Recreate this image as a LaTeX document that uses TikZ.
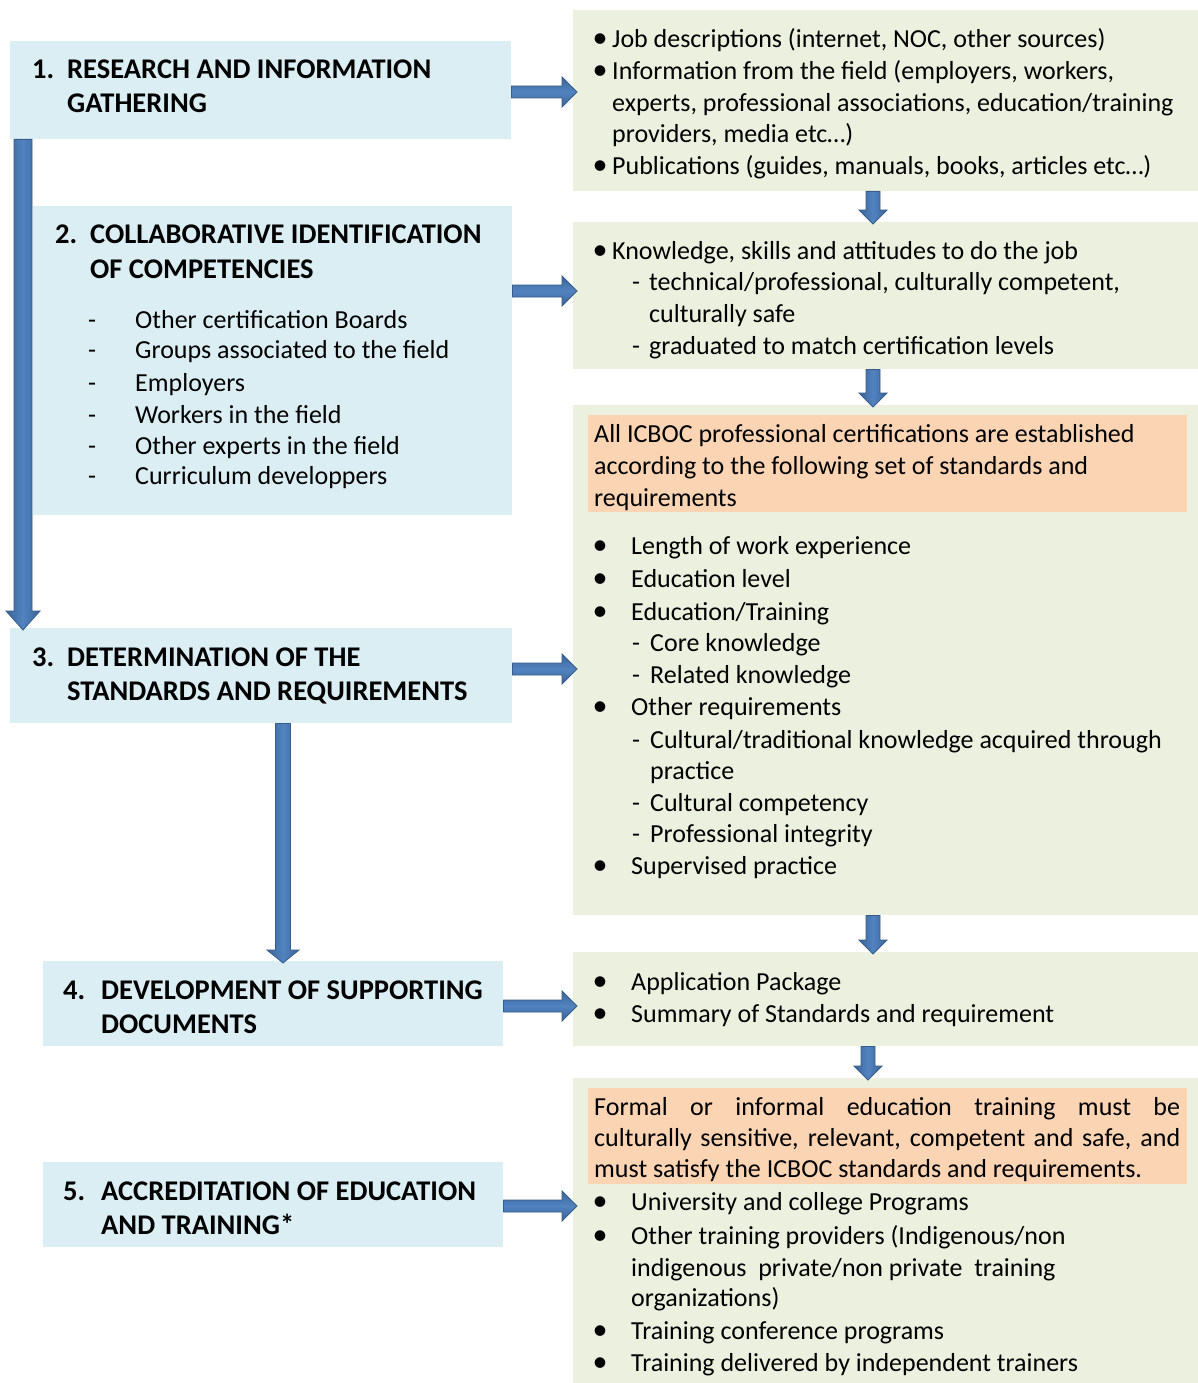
\documentclass[tikz,border=0pt]{standalone}
\usepackage{fontspec}
\setmainfont{Carlito}
\usetikzlibrary{calc}
\definecolor{boxblue}{HTML}{DAEEF3}
\definecolor{boxgreen}{HTML}{EBF1DE}
\definecolor{boxorange}{HTML}{FBD4B4}
\definecolor{arrA}{HTML}{3A6499}
\definecolor{arrB}{HTML}{5283C0}
\definecolor{arrE}{HTML}{385D8A}
\newcounter{tn}
\newcommand\Tx[3]{\stepcounter{tn}\edef\tname{t\arabic{tn}}\node[txt] (\tname) at (#1,-#2) {#3};}
\newcommand\Hd[3]{\stepcounter{tn}\edef\tname{t\arabic{tn}}\node[hdr] (\tname) at (#1,-#2) {#3};}
\newcommand\Bu[2]{\stepcounter{tn}\edef\tname{t\arabic{tn}}\node[txt,anchor=base] (\tname) at (#1,-#2) {\fontsize{30}{32}\selectfont•};}
% right arrow: start, end, shaft half, head half, head length
\newcommand\rarr[5]{\path[harrow] let \p1=#1, \p2=#2 in
 (\x1,\y1+#3) -- (\x2+4pt-#5,\y1+#3) -- (\x2+4pt-#5,\y1+#4) -- (\x2+4pt,\y1)
 -- (\x2+4pt-#5,\y1-#4) -- (\x2+4pt-#5,\y1-#3) -- (\x1,\y1-#3) -- cycle;}
\newcommand\darr[5]{\path[varrow] let \p1=#1, \p2=#2 in
 (\x1-#3,\y1) -- (\x1-#3,\y2-2pt+#5) -- (\x1-#4,\y2-2pt+#5) -- (\x1,\y2-2pt)
 -- (\x1+#4,\y2-2pt+#5) -- (\x1+#3,\y2-2pt+#5) -- (\x1+#3,\y1) -- cycle;}
\tikzset{
 txt/.style={font=\fontsize{26}{32}\selectfont, inner sep=0pt, anchor=base west, text=black, yshift=-1.5pt},
 hdr/.style={font=\fontsize{28.5}{34}\selectfont\bfseries, inner sep=0pt, anchor=base west, text=black},
 bx/.style={anchor=north west, inner sep=0pt, draw=none},
 harrow/.style={top color=arrA, bottom color=arrA, middle color=arrB, draw=arrE, line width=0.8pt},
 varrow/.style={left color=arrA, right color=arrA, middle color=arrB, draw=arrE, line width=0.8pt},
}
\begin{document}
\begin{tikzpicture}[x=1pt,y=1pt]
\fill[white] (0,0) rectangle (1198,-1383);
\useasboundingbox (0,0) rectangle (1198,-1383);
% left boxes
\node[bx,fill=boxblue,minimum width=501pt,minimum height=98pt] (b1) at (10,-41) {};
\node[bx,fill=boxblue,minimum width=479pt,minimum height=309pt] (b2) at (33,-206) {};
\node[bx,fill=boxblue,minimum width=502pt,minimum height=95pt] (b3) at (10,-628) {};
\node[bx,fill=boxblue,minimum width=460pt,minimum height=85pt] (b4) at (43,-961) {};
\node[bx,fill=boxblue,minimum width=460pt,minimum height=85pt] (b5) at (43,-1162) {};
% right boxes
\node[bx,fill=boxgreen,minimum width=625pt,minimum height=181pt] (r1) at (573,-10) {};
\node[bx,fill=boxgreen,minimum width=625pt,minimum height=147pt] (r2) at (573,-222) {};
\node[bx,fill=boxgreen,minimum width=625pt,minimum height=510pt] (r3) at (573,-405) {};
\node[bx,fill=boxgreen,minimum width=625pt,minimum height=94pt] (r4) at (573,-952) {};
\node[bx,fill=boxgreen,minimum width=625pt,minimum height=305pt] (r5) at (573,-1078) {};
\node[bx,fill=boxorange,minimum width=599pt,minimum height=97pt] (o1) at (588,-415) {};
\node[bx,fill=boxorange,minimum width=599pt,minimum height=96pt] (o2) at (588,-1088) {};
% arrows
\rarr{(b1.east |- 0,-92)}{(r1.west |- 0,-92)}{6pt}{15pt}{15pt}
\rarr{(b2.east |- 0,-291)}{(r2.west |- 0,-291)}{6pt}{15pt}{15pt}
\rarr{(b3.east |- 0,-669)}{(r3.west |- 0,-669)}{6pt}{15pt}{15pt}
\rarr{(b4.east |- 0,-1006)}{(r4.west |- 0,-1006)}{6pt}{15pt}{15pt}
\rarr{(b5.east |- 0,-1206)}{(r5.west |- 0,-1206)}{6pt}{15pt}{15pt}
\darr{(r1.south -| 873,0)}{(r2.north -| 873,0)}{7pt}{14pt}{14pt}
\darr{(r2.south -| 873,0)}{(r3.north -| 873,0)}{7pt}{14pt}{14pt}
\darr{(r3.south -| 873,0)}{(r4.north -| 873,0)}{7pt}{14pt}{14pt}
\darr{(r4.south -| 868,0)}{(r5.north -| 868,0)}{7pt}{14pt}{14pt}
\darr{(b1.south -| 23,0)}{(b3.north -| 23,0)}{9pt}{17pt}{19pt}
\darr{(b3.south -| 283,0)}{(b4.north -| 283,0)}{7.5pt}{16pt}{13pt}
% headers
\Hd{32}{79}{1.}\Hd{67}{79}{RESEARCH AND INFORMATION}\Hd{67}{113}{GATHERING}
\Hd{55}{243}{2.}\Hd{90}{243}{COLLABORATIVE IDENTIFICATION}\Hd{90}{278}{OF COMPETENCIES}
\Hd{32}{666}{3.}\Hd{67}{666}{DETERMINATION OF THE}\Hd{67}{700}{STANDARDS AND REQUIREMENTS}
\Hd{63}{999}{4.}\Hd{101}{999}{DEVELOPMENT OF SUPPORTING}\Hd{101}{1033}{DOCUMENTS}
\Hd{63}{1200}{5.}\Hd{101}{1200}{ACCREDITATION OF EDUCATION}\Hd{101}{1234}{AND TRAINING*}
% box 2 list
\Tx{88}{327}{-}\Tx{135}{327}{Other certification Boards}
\Tx{88}{357}{-}\Tx{135}{357}{Groups associated to the field}
\Tx{88}{390}{-}\Tx{135}{390}{Employers}
\Tx{88}{422}{-}\Tx{135}{422}{Workers in the field}
\Tx{88}{453}{-}\Tx{135}{453}{Other experts in the field}
\Tx{88}{483}{-}\Tx{135}{483}{Curriculum developpers}
% r1
\Bu{600}{46}\Tx{612}{46}{Job descriptions (internet, NOC, other sources)}
\Bu{600}{78}\Tx{612}{78}{Information from the field (employers, workers,}
\Tx{612}{110}{experts, professional associations, education/training}
\Tx{612}{141}{providers, media etc…)}
\Bu{600}{173}\Tx{612}{173}{Publications (guides, manuals, books, articles etc…)}
% r2
\Bu{600}{258}\Tx{612}{258}{Knowledge, skills and attitudes to do the job}
\Tx{632}{289}{-}\Tx{649}{289}{technical/professional, culturally competent,}
\Tx{649}{321}{culturally safe}
\Tx{632}{353}{-}\Tx{649}{353}{graduated to match certification levels}
% o1
\Tx{594}{441}{All ICBOC professional certifications are established}
\Tx{594}{473}{according to the following set of standards and}
\Tx{594}{505}{requirements}
% r3
\Bu{600}{553}\Tx{631}{553}{Length of work experience}
\Bu{600}{586}\Tx{631}{586}{Education level}
\Bu{600}{619}\Tx{631}{619}{Education/Training}
\Tx{632}{650}{-}\Tx{650}{650}{Core knowledge}
\Tx{632}{682}{-}\Tx{650}{682}{Related knowledge}
\Bu{600}{714}\Tx{631}{714}{Other requirements}
\Tx{632}{747}{-}\Tx{650}{747}{Cultural/traditional knowledge acquired through}
\Tx{650}{778}{practice}
\Tx{632}{810}{-}\Tx{650}{810}{Cultural competency}
\Tx{632}{841}{-}\Tx{650}{841}{Professional integrity}
\Bu{600}{873}\Tx{631}{873}{Supervised practice}
% r4
\Bu{600}{989}\Tx{631}{989}{Application Package}
\Bu{600}{1021}\Tx{631}{1021}{Summary of Standards and requirement}
% o2
\Tx{594}{1114}{\makebox[586pt][s]{Formal or informal education training must be}}
\Tx{594}{1145}{\makebox[586pt][s]{culturally sensitive, relevant, competent and safe, and}}
\Tx{594}{1176}{must satisfy the ICBOC standards and requirements.}
% r5
\Bu{600}{1209}\Tx{631}{1209}{University and college Programs}
\Bu{600}{1243}\Tx{631}{1243}{Other training providers (Indigenous/non}
\Tx{631}{1275}{indigenous\ \ private/non private\ \ training}
\Tx{631}{1305}{organizations)}
\Bu{600}{1338}\Tx{631}{1338}{Training conference programs}
\Bu{600}{1370}\Tx{631}{1370}{Training delivered by independent trainers}
\end{tikzpicture}
\end{document}
